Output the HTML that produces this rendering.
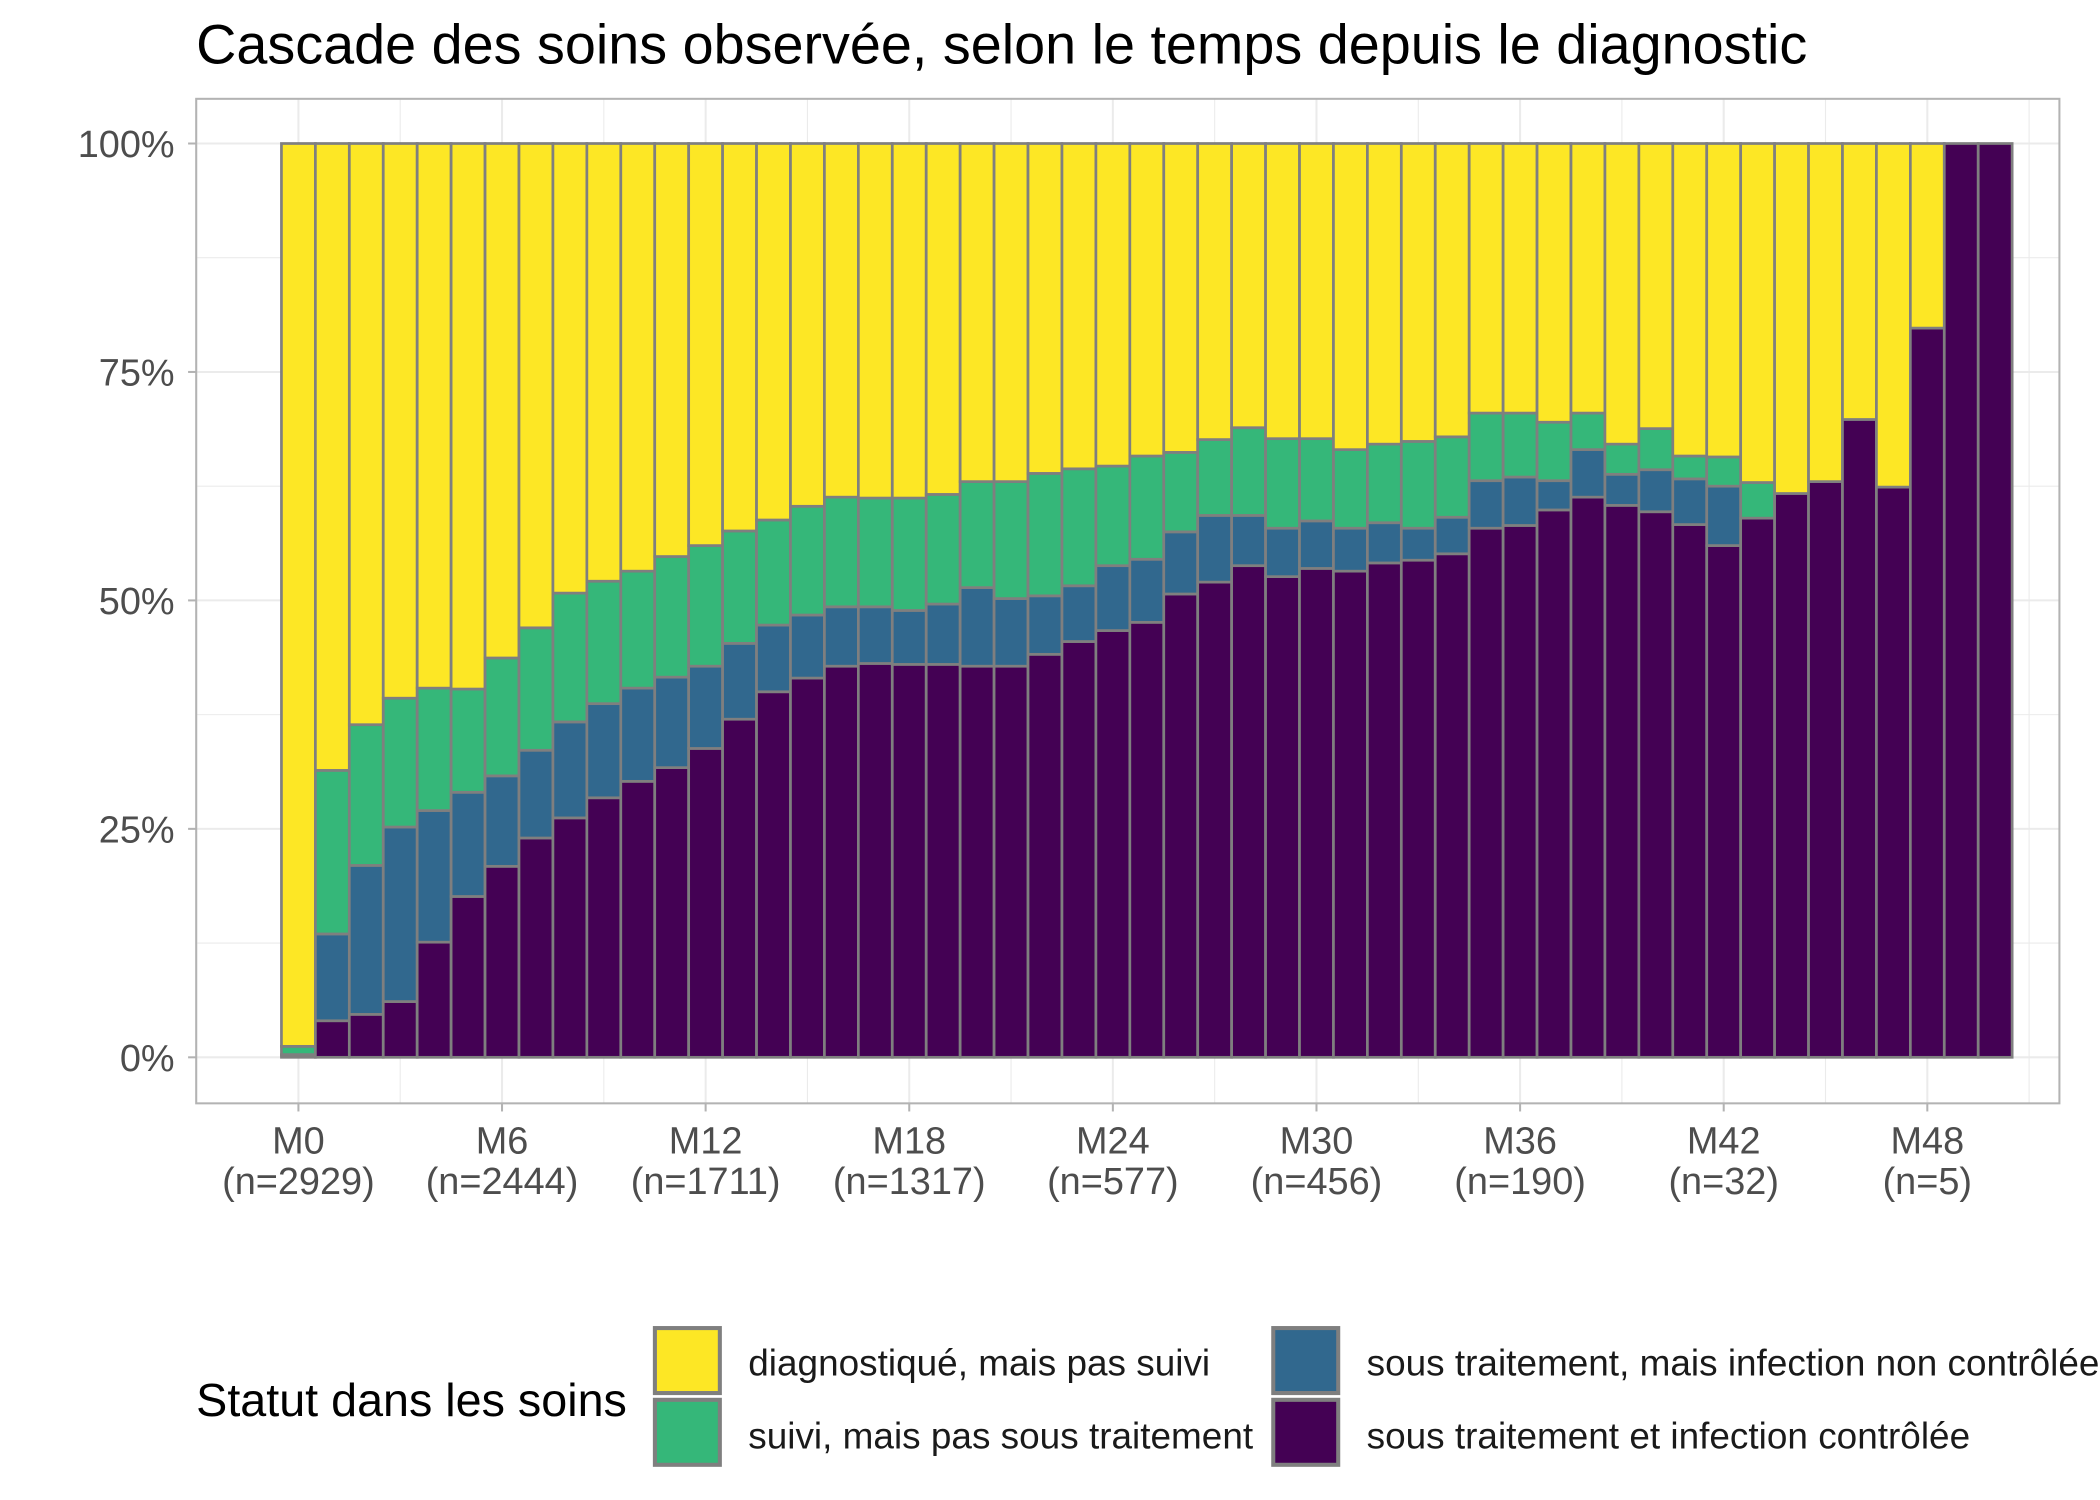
<!DOCTYPE html>
<html><head><meta charset="utf-8"><style>
html,body{margin:0;padding:0;background:#fff;}
svg{display:block;font-family:"Liberation Sans",Arial,sans-serif;}
</style></head><body>
<svg id="chart" width="2100" height="1500" viewBox="0 0 1552 1108" preserveAspectRatio="none" xmlns="http://www.w3.org/2000/svg">
<text x="145" y="47" font-size="41.2" fill="#000">Cascade des soins observée, selon le temps depuis le diagnostic</text>
<g id="grid"></g><g id="bars"></g><g id="axes"></g>
<rect x="145" y="73" width="1377" height="742" fill="none" stroke="#b3b3b3" stroke-width="1.5"/>
<g>
<text x="145" y="1046" font-size="34.5" fill="#000">Statut dans les soins</text>
<rect x="484" y="981" width="48" height="48" fill="#FDE725" stroke="#7f7f7f" stroke-width="3"/>
<text x="553" y="1016" font-size="27.3" fill="#1a1a1a">diagnostiqué, mais pas suivi</text>
<rect x="484" y="1034" width="48" height="48" fill="#35B779" stroke="#7f7f7f" stroke-width="3"/>
<text x="553" y="1070" font-size="27.3" fill="#1a1a1a">suivi, mais pas sous traitement</text>
<rect x="941" y="981" width="48" height="48" fill="#31688E" stroke="#7f7f7f" stroke-width="3"/>
<text x="1010" y="1016" font-size="27.3" fill="#1a1a1a">sous traitement, mais infection non contrôlée</text>
<rect x="941" y="1034" width="48" height="48" fill="#440154" stroke="#7f7f7f" stroke-width="3"/>
<text x="1010" y="1070" font-size="27.3" fill="#1a1a1a">sous traitement et infection contrôlée</text>
</g>
</svg>
<script>
// cumulative tops (%) per month M0..M50
const months = Array.from({length:51},(_,i)=>i);
const purpleTop = [0.2,4.0,4.7,6.1,12.6,17.6,20.9,24.0,26.2,28.4,30.2,31.7,33.8,37.0,40.0,41.5,42.8,43.1,43.0,43.0,42.8,42.8,44.1,45.5,46.7,47.6,50.7,52.0,53.8,52.6,53.5,53.2,54.1,54.4,55.1,57.9,58.2,59.9,61.3,60.4,59.7,58.3,56.0,59.0,61.7,63.0,69.8,62.4,79.8,100,100];
const blueTop = [0.3,13.5,21.0,25.2,27.0,29.0,30.8,33.6,36.7,38.7,40.4,41.6,42.8,45.3,47.3,48.4,49.3,49.3,48.9,49.6,51.4,50.2,50.5,51.6,53.8,54.5,57.5,59.3,59.3,57.9,58.7,57.9,58.5,57.9,59.1,63.1,63.5,63.1,66.5,63.8,64.3,63.3,62.5,59.0,61.7,63.0,69.8,62.4,79.8,100,100];
const greenTop = [1.2,31.4,36.4,39.3,40.4,40.3,43.7,47.0,50.8,52.1,53.2,54.8,56.0,57.6,58.8,60.3,61.3,61.2,61.2,61.6,63.0,63.0,63.9,64.4,64.7,65.8,66.2,67.6,68.9,67.7,67.7,66.5,67.1,67.4,67.9,70.5,70.5,69.5,70.5,67.1,68.8,65.8,65.7,62.9,61.7,63.0,69.8,62.4,79.8,100,100];
const tickMonths = [0,6,12,18,24,30,36,42,48];
const tickCounts = ["n=2929","n=2444","n=1711","n=1317","n=577","n=456","n=190","n=32","n=5"];
const yTicks = [0,25,50,75,100];
const yLabels = ["0%","25%","50%","75%","100%"];

const NS="http://www.w3.org/2000/svg";
const x0=208, bw=25.08, yBase=781, yScale=6.75;
const xc=m=>x0+bw*(m+0.5);
const ypx=p=>yBase-p*yScale;
function mk(tag,attrs,parent){const e=document.createElementNS(NS,tag);for(const k in attrs)e.setAttribute(k,attrs[k]);parent.appendChild(e);return e;}
const grid=document.getElementById('grid'),bars=document.getElementById('bars'),axes=document.getElementById('axes');
for(let p=-12.5;p<=112.5;p+=12.5){const y=ypx(p);if(y<73||y>815)continue;
 const l=mk('line',{x1:145,x2:1522,y1:y,y2:y,stroke:'#ebebeb','stroke-width':(p%25===0)?1.5:0.8},grid);
 
 }
for(let m=-3;m<=54;m+=3){const x=xc(m);if(x<145||x>1522)continue;
 const l=mk('line',{x1:x,x2:x,y1:73,y2:815,stroke:'#ebebeb','stroke-width':(m%6===0)?1.5:0.8},grid);
 
 }
const cols=['#440154','#31688E','#35B779','#FDE725'];
months.forEach((m,i)=>{
 const segs=[[0,purpleTop[i]],[purpleTop[i],blueTop[i]],[blueTop[i],greenTop[i]],[greenTop[i],100]];
 segs.forEach((s,j)=>{ if(s[1]-s[0]<=0.01) return;
  const r=mk('rect',{x:xc(m)-bw/2,y:ypx(s[1]),width:bw,height:(s[1]-s[0])*yScale,fill:cols[j],stroke:'#7f7f7f','stroke-width':2},bars);
  
  
 });
});
yTicks.forEach((p,i)=>{
 const t=mk('text',{x:129,y:ypx(p)+10,'font-size':28,'text-anchor':'end',fill:'#4d4d4d'},axes);t.textContent=yLabels[i];
 
 
 const k=mk('line',{x1:139,x2:145,y1:ypx(p),y2:ypx(p),stroke:'#b3b3b3','stroke-width':1.5},axes);
 
 
});
tickMonths.forEach((m,i)=>{
 const x=xc(m);
 const k=mk('line',{x1:x,x2:x,y1:815,y2:821,stroke:'#b3b3b3','stroke-width':1.5},axes);
 
 
 const t=mk('text',{x:x,y:852,'font-size':28,'text-anchor':'middle',fill:'#4d4d4d'},axes);t.textContent='M'+m;
 
 
 const t2=mk('text',{x:x,y:882,'font-size':28,'text-anchor':'middle',fill:'#4d4d4d'},axes);t2.textContent='('+tickCounts[i]+')';
 
 
});
</script>
</body></html>
